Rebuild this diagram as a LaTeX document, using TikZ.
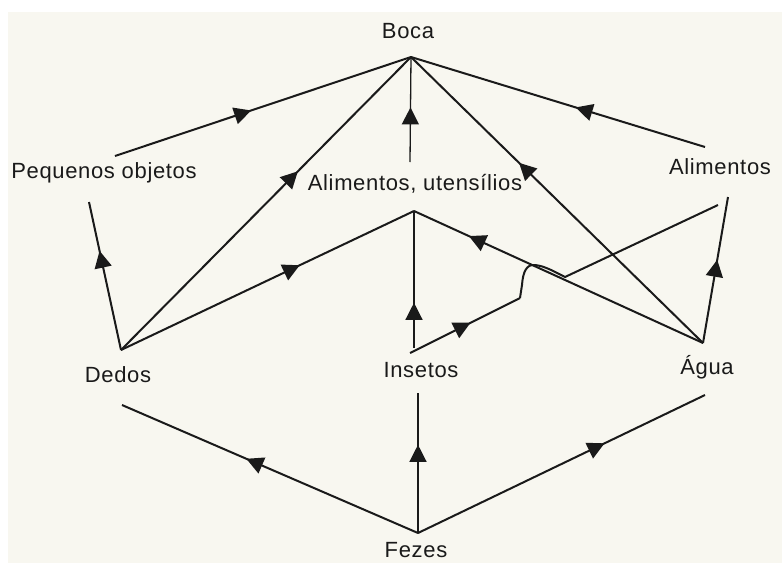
\documentclass[tikz,border=0pt]{standalone}
\usepackage{fontspec}
\setmainfont{Liberation Sans}[LetterSpace=3]
\usetikzlibrary{arrows.meta,decorations.markings}
\definecolor{bg}{HTML}{F8F7F0}
\definecolor{ink}{HTML}{1A1A1A}
\begin{document}
\begin{tikzpicture}[x=1pt,y=-1pt,
  lbl/.style={font=\fontsize{22}{26}\selectfont, text=ink, inner sep=0pt},
  conn/.style={draw=ink, line width=2pt, line join=round},
  vconn/.style={draw=ink, line width=1.3pt},
  midarr/.style={postaction={decorate}, decoration={markings,
      mark=at position #1 with {\arrow[ink]{Triangle[length=17pt,width=17pt]}}}}]
\useasboundingbox (0,0) rectangle (782,563);
\fill[white] (0,0) rectangle (782,563);
\fill[bg] (8,12) rectangle (782,563);

% labels
\node[lbl] (boca) at (408,31) {Boca};
\node[lbl] (peq) at (104,173) {Pequenos objetos};
\node[lbl] (alut) at (415,184) {Alimentos, utensílios};
\node[lbl] (alim) at (720,167) {Alimentos};
\node[lbl] (dedos) at (118,375) {Dedos};
\node[lbl] (ins) at (421,370) {Insetos};
\node[lbl] (agua) at (707,367) {Água};
\node[lbl] (fez) at (416,550) {Fezes};

% connector end points
\coordinate (bocaP) at (411,57);
\coordinate (peqR) at (115,156);
\coordinate (peqB) at (89,202);
\coordinate (alutT) at (410,162);
\coordinate (alutB) at (414,211);
\coordinate (alimL) at (705,147);
\coordinate (alimB1) at (718,205);
\coordinate (alimB2) at (728,197);
\coordinate (dedosT) at (121,350);
\coordinate (dedosB) at (122,405);
\coordinate (insT) at (414,348);
\coordinate (insR) at (410,353);
\coordinate (insB) at (418,393);
\coordinate (aguaT) at (703,343);
\coordinate (aguaB) at (705,395);
\coordinate (fezT) at (418,533);
\coordinate (hop) at (520,298);

% to Boca
\draw[conn, midarr=0.46] (peqR) -- (bocaP);
\draw[conn, midarr=0.61] (dedosT) -- (bocaP);
\draw[vconn, midarr=0.52] (alutT) -- (bocaP);
\draw[conn, midarr=0.63] (aguaT) -- (bocaP);
\draw[conn, midarr=0.44] (alimL) -- (bocaP);

% middle level
\draw[conn, midarr=0.67] (dedosT) -- (peqB);
\draw[conn, midarr=0.61] (dedosT) -- (alutB);
\draw[vconn, midarr=0.33] (insT) -- (alutB);
\draw[conn, midarr=0.81] (aguaT) -- (alutB);
\draw[conn, midarr=0.57] (aguaT) -- (alimB2);
\draw[conn, midarr=0.55] (insR) -- (hop);
\draw[conn] (hop) -- (522,285) .. controls (523,271) and (527,264) .. (535,265)
  .. controls (545,266) and (555,272) .. (565,277) -- (alimB1);

% from Fezes
\draw[conn, midarr=0.58] (fezT) -- (dedosB);
\draw[vconn, midarr=0.63] (fezT) -- (insB);
\draw[conn, midarr=0.65] (fezT) -- (aguaB);
\end{tikzpicture}
\end{document}
